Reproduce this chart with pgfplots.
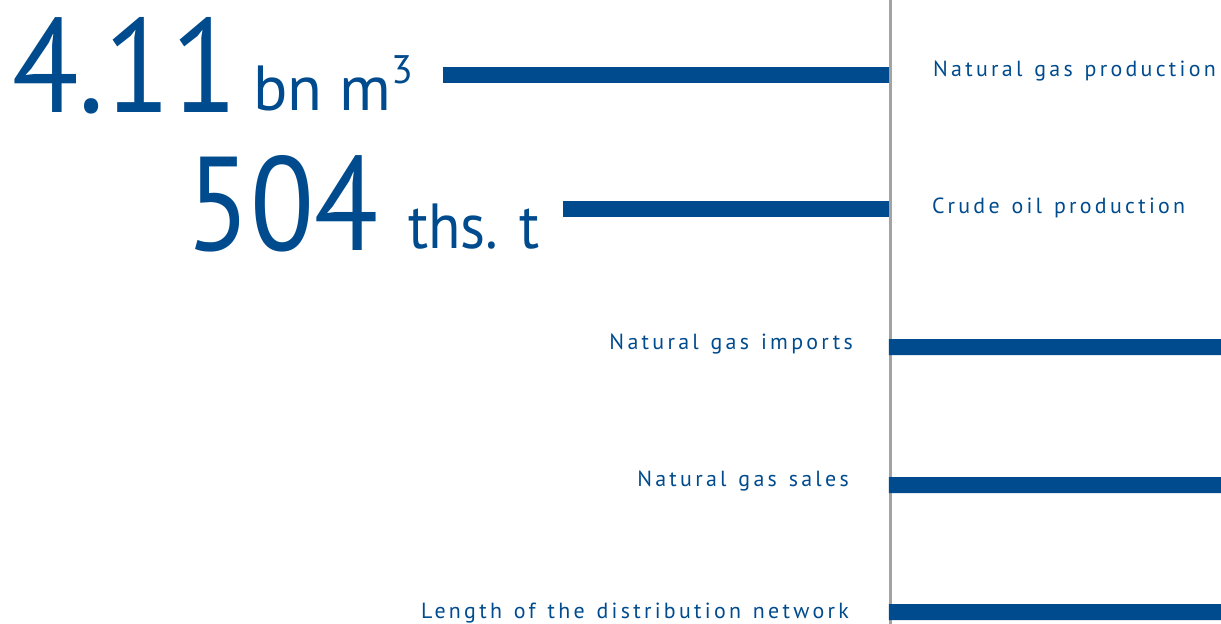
\documentclass[border=0pt]{standalone}
\usepackage{graphicx}
\usepackage{pgfplots}
\pgfplotsset{compat=1.18}
\usepackage{fontspec}
\setmainfont{PT Sans}
\newfontfamily\labelfont[LetterSpace=15, WordSpace=1.3]{PT Sans}
\definecolor{gasblue}{HTML}{004B8D}
\definecolor{axisgray}{HTML}{A3A3A3}

% every panel shares the same frame: 1 unit on y = 1bp, y runs downwards
\pgfplotsset{
  panel/.style={
    at={(0,0)}, anchor=south west,
    scale only axis, width=1221bp, height=624bp,
    ymin=0, ymax=624, y dir=reverse,
    hide axis, clip=true,
  },
  hbar/.style={xbar, bar width=16, fill=gasblue, draw=none},
}

\newcommand{\rlabel}[1]{{\labelfont\fontsize{22}{22}\selectfont\color{gasblue}#1}}

\begin{document}
\begin{tikzpicture}
% Natural gas production, bn m3 (drawn to the left of the centre line)
\begin{axis}[panel, x dir=reverse, xmin=-3.0595, xmax=8.1923]
  \addplot[hbar] coordinates {(4.11,75.5)};
\end{axis}
% Crude oil production, ths. t (drawn to the left of the centre line)
\begin{axis}[panel, x dir=reverse, xmin=-513.3, xmax=1374.4]
  \addplot[hbar] coordinates {(504,209)};
\end{axis}
% Centre line, right-hand bars and all text
\begin{axis}[panel, xmin=-889, xmax=332]
  \addplot[axisgray, line width=2.5bp] coordinates {(1.5,0) (1.5,624)};
  \addplot[hbar] coordinates {(400,347) (400,485) (400,612)};

  \node[anchor=base west, inner sep=0, text=gasblue, font=\fontsize{134}{134}\selectfont]
    at (axis cs:-877,112) {\scalebox{0.915}[1]{4.11}};
  \node[anchor=base west, inner sep=0, text=gasblue, font=\fontsize{64}{64}\selectfont]
    at (axis cs:-636,110) {bn m\raisebox{27bp}{\fontsize{40}{40}\selectfont 3}};
  \node[anchor=base west, inner sep=0, text=gasblue, font=\fontsize{134}{134}\selectfont]
    at (axis cs:-703,250) {\scalebox{0.88}[1]{504}};
  \node[anchor=base west, inner sep=0, text=gasblue, font=\fontsize{64}{64}\selectfont]
    at (axis cs:-481,248) {\scalebox{0.93}[1]{ths. t}};

  \node[anchor=base west, inner sep=0] at (axis cs:44,77) {\rlabel{Natural gas production}};
  \node[anchor=base west, inner sep=0] at (axis cs:43,213) {\rlabel{Crude oil production}};
  \node[anchor=base east, inner sep=0] at (axis cs:-36,349) {\rlabel{Natural gas imports}};
  \node[anchor=base east, inner sep=0] at (axis cs:-40,486) {\rlabel{Natural gas sales}};
  \node[anchor=base east, inner sep=0] at (axis cs:-40,618) {\rlabel{Length of the distribution network}};
\end{axis}
\pgfresetboundingbox
\useasboundingbox (0,0) rectangle (1221bp,624bp);
\end{tikzpicture}
\end{document}
